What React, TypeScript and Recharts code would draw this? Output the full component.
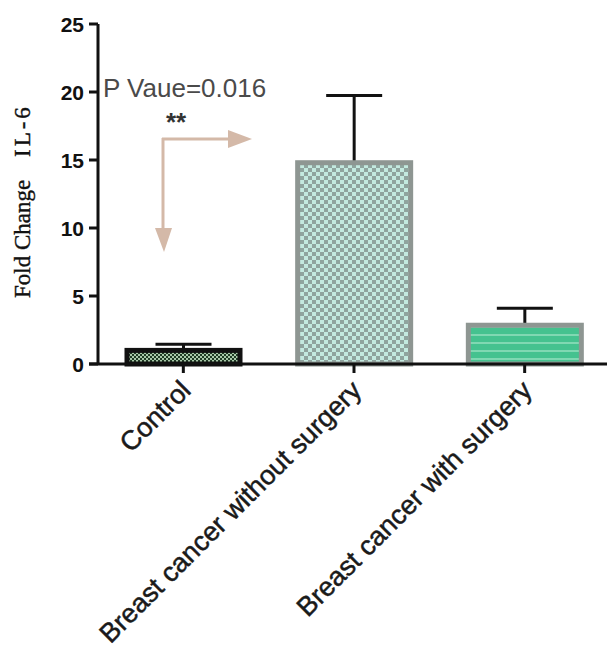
import React from 'react';
import { BarChart, Bar, XAxis, YAxis } from 'recharts';

const categories = ['Control', 'Breast cancer without surgery', 'Breast cancer with surgery'];
const foldChange = [1.0, 14.8, 2.85];
const sdUpper = [0.45, 4.95, 1.25];
const yTicks = [0, 5, 10, 15, 20, 25];
const barFills = ['url(#patControl)', 'url(#patWithout)', 'url(#patWith)'];
const barStrokes = ['#111111', '#8e9692', '#8e9692'];

const data = categories.map((name, i) => ({
  name,
  value: foldChange[i],
  sd: sdUpper[i],
  idx: i,
}));

const BarWithError = (props: any) => {
  const { x, y, width, height, payload } = props;
  const i = payload.idx;
  const ppu = height / payload.value;
  const errTop = y - payload.sd * ppu;
  const cx = x + width / 2;
  return (
    <g>
      <line x1={cx} y1={y} x2={cx} y2={errTop} stroke="#111" strokeWidth={3} />
      <line x1={cx - 28} y1={errTop} x2={cx + 28} y2={errTop} stroke="#111" strokeWidth={3} />
      <rect x={x} y={y} width={width} height={height} fill={barFills[i]} stroke={barStrokes[i]} strokeWidth={5} />
    </g>
  );
};

const XTick = (props: any) => {
  const { x, y, payload } = props;
  return (
    <g transform={`translate(${x + 9},${y + 19})`}>
      <text
        transform="rotate(-45)"
        textAnchor="end"
        fontFamily="'Liberation Sans', Arial, sans-serif"
        fontSize={27}
        stroke="#1a1a1a"
        strokeWidth={0.5}
        fill="#1a1a1a"
      >
        {payload.value}
      </text>
    </g>
  );
};

const YTick = (props: any) => {
  const { x, y, payload } = props;
  return (
    <text
      x={x - 2}
      y={y + 8}
      textAnchor="end"
      fontFamily="'Liberation Sans', Arial, sans-serif"
      fontWeight="bold"
      fontSize={21}
      fill="#111"
    >
      {payload.value}
    </text>
  );
};

export default function App() {
  return (
    <div style={{ position: 'absolute', left: 0, top: 0, width: 607, height: 655, overflow: 'hidden', background: '#fff' }}>
      <svg width={607} height={655} style={{ position: 'absolute', left: 0, top: 0 }}>
        <defs>
          <pattern id="patControl" patternUnits="userSpaceOnUse" width={4} height={4}>
            <rect x={0} y={0} width={4} height={4} fill="#1f3b24" />
            <rect x={0} y={0} width={2} height={2} fill="#a8c8a8" />
            <rect x={2} y={2} width={2} height={2} fill="#a8c8a8" />
          </pattern>
          <pattern id="patWithout" patternUnits="userSpaceOnUse" width={8} height={8}>
            <rect x={0} y={0} width={8} height={8} fill="#8fa49e" />
            <rect x={0} y={0} width={4} height={4} fill="#c3e9df" />
            <rect x={4} y={4} width={4} height={4} fill="#c3e9df" />
          </pattern>
          <pattern id="patWith" patternUnits="userSpaceOnUse" width={8} height={8}>
            <rect x={0} y={0} width={8} height={8} fill="#45c28f" />
            <rect x={0} y={6} width={8} height={2} fill="#80d8b2" />
          </pattern>
        </defs>
      </svg>
      <div style={{ position: 'absolute', left: 0, top: 0 }}>
        <BarChart
          width={610}
          height={655}
          data={data}
          margin={{ top: 24, right: 0, left: 0, bottom: 0 }}
        >
          <XAxis
            dataKey="name"
            height={291}
            interval={0}
            axisLine={{ stroke: '#111', strokeWidth: 3 }}
            tickLine={{ stroke: '#111', strokeWidth: 3 }}
            tickSize={9}
            tickMargin={0}
            tick={<XTick />}
          />
          <YAxis
            width={98}
            domain={[0, 25]}
            ticks={yTicks}
            interval={0}
            axisLine={{ stroke: '#111', strokeWidth: 3 }}
            tickLine={{ stroke: '#111', strokeWidth: 3 }}
            tickSize={9}
            tickMargin={3}
            tick={<YTick />}
          />
          <Bar dataKey="value" barSize={113} shape={<BarWithError />} isAnimationActive={false} />
        </BarChart>
      </div>
      <svg width={607} height={655} style={{ position: 'absolute', left: 0, top: 0, pointerEvents: 'none' }}>
        <line x1={89} y1={364} x2={98} y2={364} stroke="#111" strokeWidth={3} />
        <text
          transform="translate(30,298) rotate(-90)"
          fontFamily="'Liberation Serif', 'Times New Roman', serif"
          fontSize={23}
          stroke="#111"
          strokeWidth={0.4}
          fill="#111"
        >
          Fold Change
        </text>
        <text
          transform="translate(30,157) rotate(-90)"
          fontFamily="'Liberation Serif', 'Times New Roman', serif"
          fontSize={23}
          letterSpacing={3}
          stroke="#111"
          strokeWidth={0.4}
          fill="#111"
        >
          IL-6
        </text>
        <text
          x={103}
          y={97}
          fontFamily="'Liberation Sans', Arial, sans-serif"
          fontSize={26}
          fill="#4a4a4a"
        >
          P Vaue=0.016
        </text>
        <text
          x={176}
          y={131}
          textAnchor="middle"
          fontFamily="'Liberation Sans', Arial, sans-serif"
          fontWeight="bold"
          fontSize={26}
          fill="#333"
        >
          **
        </text>
        <g stroke="#d4b9a8" strokeWidth={3} fill="#d4b9a8">
          <line x1={163} y1={138} x2={163} y2={229} />
          <line x1={162} y1={139} x2={229} y2={139} />
          <polygon points="155,228 172,228 164,252" stroke="none" />
          <polygon points="228,130 228,148 252,139" stroke="none" />
        </g>
      </svg>
    </div>
  );
}
